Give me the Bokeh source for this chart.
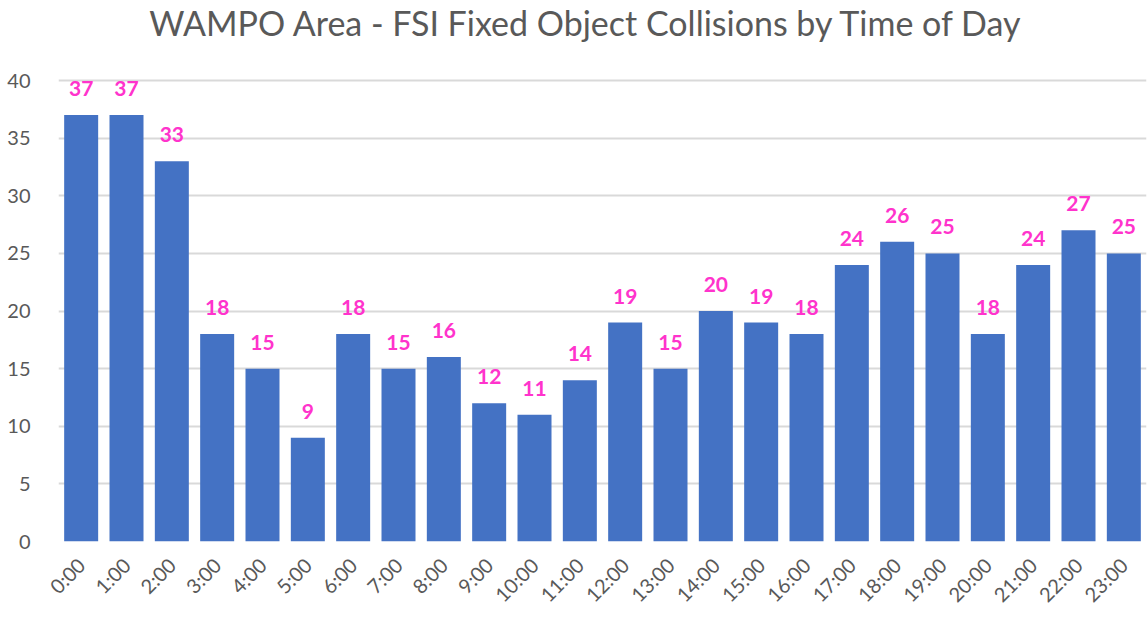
import math
from bokeh.plotting import figure
from bokeh.models import ColumnDataSource, FactorRange, Range1d, FixedTicker, Label
from bokeh.embed import file_html
from bokeh.resources import INLINE
from bokeh.core.properties import value

hours = ["0:00", "1:00", "2:00", "3:00", "4:00", "5:00", "6:00", "7:00", "8:00", "9:00",
         "10:00", "11:00", "12:00", "13:00", "14:00", "15:00", "16:00", "17:00", "18:00",
         "19:00", "20:00", "21:00", "22:00", "23:00"]
collisions = [37, 37, 33, 18, 15, 9, 18, 15, 16, 12, 11, 14, 19, 15, 20, 19, 18, 24, 26, 25,
              18, 24, 27, 25]
y_ticks = [0, 5, 10, 15, 20, 25, 30, 35, 40]
title_text = "WAMPO Area - FSI Fixed Object Collisions by Time of Day"

src = ColumnDataSource(dict(x=hours, y=collisions, lbl=[str(v) for v in collisions]))

# frame spans the whole height above the axis; the extra room above 40 holds the title
y_top = 40 * 536 / 461

p = figure(width=1148, height=619, x_range=FactorRange(*hours, range_padding=0),
           y_range=Range1d(0, y_top), output_backend="svg", toolbar_location=None,
           min_border_left=58, min_border_right=2, min_border_top=5, min_border_bottom=78)
p.title_location = None

p.add_layout(Label(x=11.65, y=y_top * 519 / 536, text=title_text, text_align="center",
                   text_baseline="middle", text_font="Lato", text_font_size="34px",
                   text_color="#595959"))

p.vbar(x="x", top="y", width=0.75, source=src, color="#4472C4", line_color=None)
p.text(x="x", y="y", text="lbl", source=src, text_align="center", text_baseline="bottom",
       y_offset=-19, text_font=value("Lato"), text_font_style="bold",
       text_font_size="21px", text_color="#FF33CC")

p.outline_line_color = None
p.xgrid.grid_line_color = None
p.ygrid.grid_line_color = "#D9D9D9"
p.ygrid.grid_line_width = 2
p.yaxis.ticker = FixedTicker(ticks=y_ticks)
for ax in (p.xaxis, p.yaxis):
    ax.axis_line_color = None
    ax.major_tick_line_color = None
    ax.minor_tick_line_color = None
    ax.major_label_text_color = "#595959"
    ax.major_label_text_font = "Lato"
p.xaxis.major_label_text_font_size = "20px"
p.yaxis.major_label_text_font_size = "20px"
p.xaxis.major_label_orientation = math.pi / 4
p.xaxis.major_label_standoff = 14
p.yaxis.major_label_standoff = 22

open("out.html", "w").write(file_html(p, INLINE))
